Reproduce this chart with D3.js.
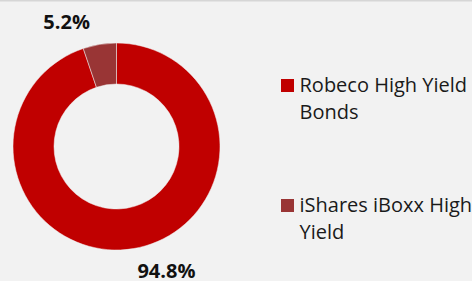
<!DOCTYPE html>
<html>
<head>
<meta charset="utf-8">
<script src="https://cdn.jsdelivr.net/npm/d3@7"></script>
<style>
  html, body { margin: 0; padding: 0; background: #f2f2f2; }
  svg { display: block; }
</style>
</head>
<body>
<div class="chart"></div>
<script>
const categories = ['Robeco High Yield Bonds', 'iShares iBoxx High Yield'];
const legendLines = [['Robeco High Yield', 'Bonds'], ['iShares iBoxx High', 'Yield']];
const values = [94.8, 5.2];
const labels = ['94.8%', '5.2%'];
const colors = ['#c00000', '#993535'];

const width = 472, height = 281;
const cx = 116.5, cy = 146.5;
const outerR = 103.5, innerR = 62.5;
const labelR = 134;
const labelShift = -12.5 * Math.PI / 180;

const svg = d3.select('.chart').append('svg')
    .attr('width', width)
    .attr('height', height);

svg.append('rect')
    .attr('width', width).attr('height', height)
    .attr('fill', '#f2f2f2');
svg.append('line')
    .attr('x1', 0).attr('x2', width)
    .attr('y1', 0.5).attr('y2', 0.5)
    .attr('stroke', '#d6d6d6').attr('stroke-width', 2);

const pie = d3.pie().sort(null).value(d => d);
const arcs = pie(values);
const arc = d3.arc().innerRadius(innerR).outerRadius(outerR);

const g = svg.append('g').attr('transform', `translate(${cx},${cy})`);

g.selectAll('.slice')
  .data(arcs)
  .enter().append('path')
    .attr('class', 'slice')
    .attr('d', arc)
    .attr('fill', (d, i) => colors[i])
    .attr('stroke', '#f2f2f2')
    .attr('stroke-width', 0.5);

g.selectAll('.label')
  .data(arcs)
  .enter().append('text')
    .attr('class', 'label')
    .attr('transform', d => {
      const a = (d.startAngle + d.endAngle) / 2 + labelShift;
      const [x, y] = d3.pointRadial(a, labelR);
      return `translate(${x},${y})`;
    })
    .attr('text-anchor', 'middle')
    .attr('dy', '0.35em')
    .attr('font-family', '"Open Sans", sans-serif')
    .attr('font-weight', 'bold')
    .attr('font-size', 20)
    .attr('fill', '#111')
    .text((d, i) => labels[i]);

const legend = svg.append('g').attr('transform', 'translate(281,0)');
const legendY = [79, 199];

const items = legend.selectAll('.item')
  .data(categories)
  .enter().append('g')
    .attr('class', 'item')
    .attr('transform', (d, i) => `translate(0,${legendY[i]})`);

items.append('rect')
    .attr('width', 13).attr('height', 13)
    .attr('fill', (d, i) => colors[i]);

items.append('text')
    .attr('x', 18.5)
    .attr('y', 13)
    .attr('font-family', '"Open Sans", sans-serif')
    .attr('font-size', 20)
    .attr('fill', '#1a1a1a')
    .selectAll('tspan')
    .data((d, i) => legendLines[i])
    .enter().append('tspan')
      .attr('x', 18.5)
      .attr('dy', (d, j) => j === 0 ? 0 : 27)
      .text(d => d);
</script>
</body>
</html>
